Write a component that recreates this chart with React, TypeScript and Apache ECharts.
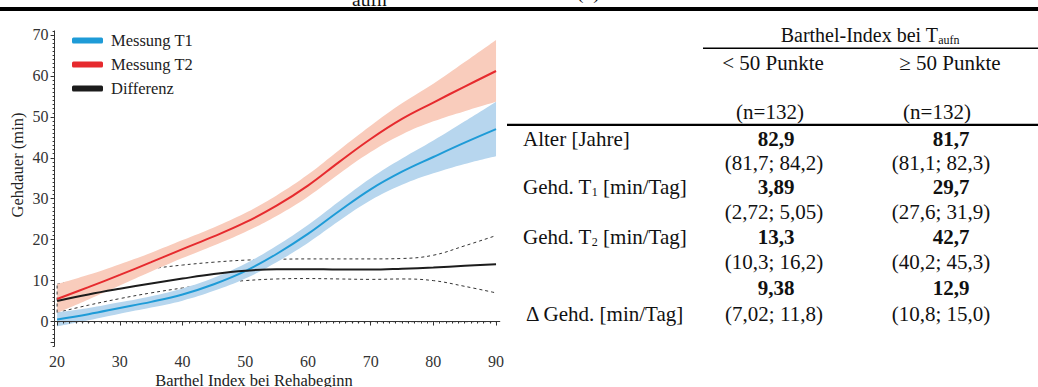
import React, { useEffect, useRef } from "react";
import * as echarts from "echarts";

const FONT = "Liberation Serif";

// ---- chart data ----
const barthelX = [20, 25, 30, 35, 40, 45, 50, 55, 60, 65, 70, 75, 80, 85, 90];
const t1Mean = [0.5, 1.8, 3.3, 4.8, 6.6, 9.1, 12.3, 16.5, 21.4, 27.0, 32.3, 36.6, 40.2, 43.7, 47.0];
const t1Lower = [-1.2, 0.3, 1.9, 3.4, 5.1, 7.5, 10.5, 14.5, 19.2, 24.6, 29.6, 33.4, 36.2, 38.5, 40.4];
const t1Upper = [2.2, 3.3, 4.7, 6.2, 8.1, 10.7, 14.1, 18.5, 23.6, 29.4, 35.0, 39.8, 44.2, 48.9, 53.7];
const t2Mean = [5.5, 8.4, 11.4, 14.5, 17.7, 20.8, 24.2, 28.3, 33.2, 39.0, 44.6, 49.5, 53.5, 57.4, 61.2];
const t2Lower = [2.1, 5.4, 8.8, 12.2, 15.5, 18.6, 21.9, 25.8, 30.5, 36.1, 41.4, 45.7, 48.9, 51.4, 53.7];
const t2Upper = [9.1, 11.4, 14.0, 16.8, 19.9, 23.0, 26.5, 30.8, 35.9, 41.9, 47.8, 53.3, 58.1, 63.4, 68.8];
const diffMean = [5.0, 6.6, 8.0, 9.3, 10.5, 11.6, 12.4, 12.8, 12.8, 12.7, 12.7, 12.9, 13.2, 13.6, 14.0];
const diffLower = [2.2, 4.0, 5.6, 7.0, 8.2, 9.3, 10.0, 10.4, 10.5, 10.4, 10.3, 10.4, 10.0, 8.6, 7.0];
const diffUpper = [9.1, 10.5, 11.8, 12.9, 13.8, 14.5, 15.0, 15.2, 15.3, 15.3, 15.3, 15.4, 16.2, 18.5, 21.0];
const zeroLineX = [20, 90];
const zeroLineY = [0, 0];

const yTickLabels = [0, 10, 20, 30, 40, 50, 60, 70];
const xTickLabels = [20, 30, 40, 50, 60, 70, 80, 90];
const legendNames = ["Messung T1", "Messung T2", "Differenz"];
const yAxisTitle = "Gehdauer (min)";
const xAxisTitle = "Barthel Index bei Rehabeginn";

// ---- table data ----
const headerMain = "Barthel-Index bei T";
const headerSub = "aufn";
const groupLabels = ["< 50 Punkte", "≥ 50 Punkte"];
const groupN = ["(n=132)", "(n=132)"];
const alterMean = ["82,9", "81,7"];
const alterCI = ["(81,7; 84,2)", "(81,1; 82,3)"];
const t1TabMean = ["3,89", "29,7"];
const t1TabCI = ["(2,72; 5,05)", "(27,6; 31,9)"];
const t2TabMean = ["13,3", "42,7"];
const t2TabCI = ["(10,3; 16,2)", "(40,2; 45,3)"];
const deltaTabMean = ["9,38", "12,9"];
const deltaTabCI = ["(7,02; 11,8)", "(10,8; 15,0)"];

const BLUE = "#1e9bd7";
const BLUE_BAND = "#b7d6ee";
const RED = "#e62a2e";
const RED_BAND = "#f9ccbc";
const BLACK = "#1c1c1c";

export default function App() {
  const ref = useRef<HTMLDivElement>(null);
  useEffect(() => {
    if (!ref.current) return;
    const chart = echarts.init(ref.current, undefined, { renderer: "svg" });

    const pairs = (ys: number[]) => barthelX.map((x, i) => [x, ys[i]]);
    const widths = (lo: number[], up: number[]) => lo.map((v, i) => +(up[i] - v).toFixed(4));

    const yMinor: number[] = [];
    for (let v = -6; v <= 71; v++) yMinor.push(v);
    const xMinor: number[] = [];
    for (let v = 20; v <= 90; v++) xMinor.push(v);

    // plot geometry: x from 19.6 to 90.6, y from -6 to 71
    const gLeft = 54.6;
    const gTop = 30.9;
    const gWidth = 445.2;
    const gHeight = 315.2;
    const xMin = 19.6;
    const xMax = 90.6;
    const pxPerX = gWidth / (xMax - xMin);

    const base: any = {
      type: "line",
      symbol: "none",
      smooth: 0.4,
      silent: true,
      xAxisIndex: 0,
      yAxisIndex: 0,
    };
    const bandBase: any = {
      type: "line",
      symbol: "none",
      smooth: 0.4,
      silent: true,
      xAxisIndex: 2,
      yAxisIndex: 2,
      stackStrategy: "all",
      lineStyle: { opacity: 0, width: 0 },
      z: 2,
    };

    const TS = 21;
    const txt = (text: string, x: number, y: number, opts: any = {}): any => ({
      type: "text",
      x,
      y,
      silent: true,
      style: {
        text,
        fill: "#111",
        fontFamily: FONT,
        fontSize: opts.size || TS,
        fontWeight: opts.bold ? "bold" : "normal",
        align: opts.align || "left",
        textAlign: opts.align || "left",
        verticalAlign: "middle",
        textVerticalAlign: "middle",
        rich: opts.rich,
      },
    });

    const subRich = {
      a: { fontFamily: FONT, fontSize: TS, lineHeight: 22, fill: "#111" },
      s: { fontFamily: FONT, fontSize: 12, lineHeight: 15, verticalAlign: "bottom", fill: "#111" },
    };
    const headRich = {
      a: { fontFamily: FONT, fontSize: 20, lineHeight: 22, fill: "#111" },
      s: { fontFamily: FONT, fontSize: 12, lineHeight: 15, verticalAlign: "bottom", fill: "#111" },
    };

    const c1 = 774;
    const c2 = 946;
    const labelX = 523;
    const rowY = [139, 163, 187, 212, 237, 262, 288, 314];

    const graphics: any[] = [
      // caption remnants cut at the very top (as in the reference)
      txt("aufn", 352, -1, { size: 19.5 }),
      txt("(n)", 577, -8, { size: 19.5 }),
      { type: "rect", silent: true, shape: { x: 0, y: 7, width: 1038, height: 4 }, style: { fill: "#000" } },
      // axis titles
      {
        type: "text",
        x: 17,
        y: 165,
        rotation: Math.PI / 2,
        silent: true,
        style: {
          text: yAxisTitle,
          fill: "#222",
          fontFamily: FONT,
          fontSize: 16.5,
          align: "center",
          textAlign: "center",
          verticalAlign: "middle",
          textVerticalAlign: "middle",
        },
      },
      {
        type: "text",
        x: 254,
        y: 380,
        silent: true,
        style: {
          text: xAxisTitle,
          fill: "#222",
          fontFamily: FONT,
          fontSize: 16.5,
          align: "center",
          textAlign: "center",
          verticalAlign: "middle",
          textVerticalAlign: "middle",
        },
      },
      // table
      txt(`{a|${headerMain}}{s|${headerSub}}`, 870, 35, { align: "center", rich: headRich }),
      { type: "rect", silent: true, shape: { x: 703, y: 47.5, width: 335, height: 1.6 }, style: { fill: "#000" } },
      txt(groupLabels[0], c1 - 1, 63, { align: "center" }),
      txt(groupLabels[1], c2 + 4, 63, { align: "center" }),
      txt(groupN[0], c1 - 4, 112, { align: "center" }),
      txt(groupN[1], c2 - 9, 112, { align: "center" }),
      { type: "rect", silent: true, shape: { x: 507, y: 123.8, width: 531, height: 2.2 }, style: { fill: "#000" } },
      txt("Alter [Jahre]", labelX, rowY[0]),
      txt(alterMean[0], c1 + 2, rowY[0], { align: "center", bold: true }),
      txt(alterMean[1], c2 + 5, rowY[0], { align: "center", bold: true }),
      txt(alterCI[0], c1, rowY[1], { align: "center" }),
      txt(alterCI[1], c2 - 5, rowY[1], { align: "center" }),
      txt("{a|Gehd. T}{s|1}{a| [min/Tag]}", labelX, rowY[2], { rich: subRich }),
      txt(t1TabMean[0], c1 + 2, rowY[2], { align: "center", bold: true }),
      txt(t1TabMean[1], c2 + 5, rowY[2], { align: "center", bold: true }),
      txt(t1TabCI[0], c1, rowY[3], { align: "center" }),
      txt(t1TabCI[1], c2 - 5, rowY[3], { align: "center" }),
      txt("{a|Gehd. T}{s|2}{a| [min/Tag]}", labelX, rowY[4], { rich: subRich }),
      txt(t2TabMean[0], c1 + 2, rowY[4], { align: "center", bold: true }),
      txt(t2TabMean[1], c2 + 5, rowY[4], { align: "center", bold: true }),
      txt(t2TabCI[0], c1, rowY[5], { align: "center" }),
      txt(t2TabCI[1], c2 - 5, rowY[5], { align: "center" }),
      txt(deltaTabMean[0], c1 + 2, rowY[6], { align: "center", bold: true }),
      txt(deltaTabMean[1], c2 + 5, rowY[6], { align: "center", bold: true }),
      txt("Δ Gehd. [min/Tag]", labelX + 3, rowY[7]),
      txt(deltaTabCI[0], c1, rowY[7], { align: "center" }),
      txt(deltaTabCI[1], c2 - 5, rowY[7], { align: "center" }),
    ];

    const axisCommon = {
      z: 10,
      splitLine: { show: false },
      axisLine: { show: true, lineStyle: { color: "#333", width: 1 } },
    };

    const option: any = {
      animation: false,
      backgroundColor: "#fff",
      textStyle: { fontFamily: FONT },
      grid: [
        { left: gLeft, top: gTop, width: gWidth, height: gHeight, containLabel: false },
        {
          left: gLeft + (barthelX[0] - xMin) * pxPerX,
          top: gTop,
          width: (barthelX[barthelX.length - 1] - barthelX[0]) * pxPerX,
          height: gHeight,
          containLabel: false,
        },
      ],
      xAxis: [
        {
          ...axisCommon,
          type: "value",
          gridIndex: 0,
          min: xMin,
          max: xMax,
          position: "bottom",
          axisTick: { show: true, length: 4, customValues: xTickLabels, lineStyle: { color: "#333" } },
          axisLabel: {
            customValues: xTickLabels,
            fontFamily: FONT,
            fontSize: 16,
            color: "#333",
            margin: 7,
          },
        },
        {
          z: 10,
          type: "value",
          gridIndex: 0,
          min: xMin,
          max: xMax,
          position: "bottom",
          splitLine: { show: false },
          axisLine: { show: false },
          axisLabel: { show: false },
          axisTick: { show: true, length: 2, customValues: xMinor, lineStyle: { color: "#333" } },
        },
        {
          type: "category",
          gridIndex: 1,
          data: barthelX.map(String),
          boundaryGap: false,
          show: false,
        },
      ],
      yAxis: [
        {
          ...axisCommon,
          type: "value",
          gridIndex: 0,
          min: -6,
          max: 71,
          position: "left",
          axisTick: { show: true, length: 4, customValues: [-5, ...yTickLabels], lineStyle: { color: "#333" } },
          axisLabel: {
            customValues: yTickLabels,
            fontFamily: FONT,
            fontSize: 16,
            color: "#333",
            margin: 6,
          },
        },
        {
          z: 10,
          type: "value",
          gridIndex: 0,
          min: -6,
          max: 71,
          position: "left",
          splitLine: { show: false },
          axisLine: { show: false },
          axisLabel: { show: false },
          axisTick: { show: true, length: 2, customValues: yMinor, lineStyle: { color: "#333" } },
        },
        {
          type: "value",
          gridIndex: 1,
          min: -6,
          max: 71,
          show: false,
          splitLine: { show: false },
        },
      ],
      legend: {
        show: true,
        orient: "vertical",
        left: 72,
        top: 32,
        padding: 0,
        itemWidth: 31,
        itemHeight: 6,
        itemGap: 7,
        icon: "roundRect",
        selectedMode: false,
        data: legendNames,
        textStyle: { fontFamily: FONT, fontSize: 16.5, color: "#222", lineHeight: 16, padding: [0, 0, 0, 3] },
      },
      series: [
        // confidence limits of the difference (drawn beneath the bands)
        { ...base, name: "Differenz KI unten", data: pairs(diffLower), lineStyle: { color: "#333", width: 1, type: [3, 3] }, z: 1 },
        { ...base, name: "Differenz KI oben", data: pairs(diffUpper), lineStyle: { color: "#333", width: 1, type: [3, 3] }, z: 1 },
        // confidence bands (stacked on a hidden category axis spanning 20..90)
        { ...bandBase, name: "T2 KI unten", data: t2Lower, stack: "t2" },
        { ...bandBase, name: "T2 KI", data: widths(t2Lower, t2Upper), stack: "t2", areaStyle: { color: RED_BAND, opacity: 1 } },
        { ...bandBase, name: "T1 KI unten", data: t1Lower, stack: "t1" },
        { ...bandBase, name: "T1 KI", data: widths(t1Lower, t1Upper), stack: "t1", areaStyle: { color: BLUE_BAND, opacity: 1 } },
        {
          ...base,
          name: "Null",
          smooth: false,
          data: zeroLineX.map((x, i) => [x, zeroLineY[i]]),
          lineStyle: { color: "#777", width: 1.2, type: [3, 3] },
          z: 3,
        },
        {
          ...base,
          name: "Differenz KI Rand",
          smooth: false,
          data: [
            [barthelX[0], diffLower[0]],
            [barthelX[0], diffUpper[0]],
          ],
          lineStyle: { color: "#444", width: 1, type: [3, 3] },
          z: 3,
        },
        { ...base, name: "Messung T1", data: pairs(t1Mean), color: BLUE, itemStyle: { color: BLUE }, lineStyle: { color: BLUE, width: 2 }, z: 4 },
        { ...base, name: "Messung T2", data: pairs(t2Mean), color: RED, itemStyle: { color: RED }, lineStyle: { color: RED, width: 2 }, z: 4 },
        { ...base, name: "Differenz", data: pairs(diffMean), color: BLACK, itemStyle: { color: BLACK }, lineStyle: { color: BLACK, width: 2 }, z: 4 },
      ],
      graphic: graphics,
    };

    chart.setOption(option);
    return () => chart.dispose();
  }, []);

  return (
    <div
      ref={ref}
      style={{ position: "fixed", left: 0, top: 0, width: 1038, height: 387, background: "#fff" }}
    />
  );
}
